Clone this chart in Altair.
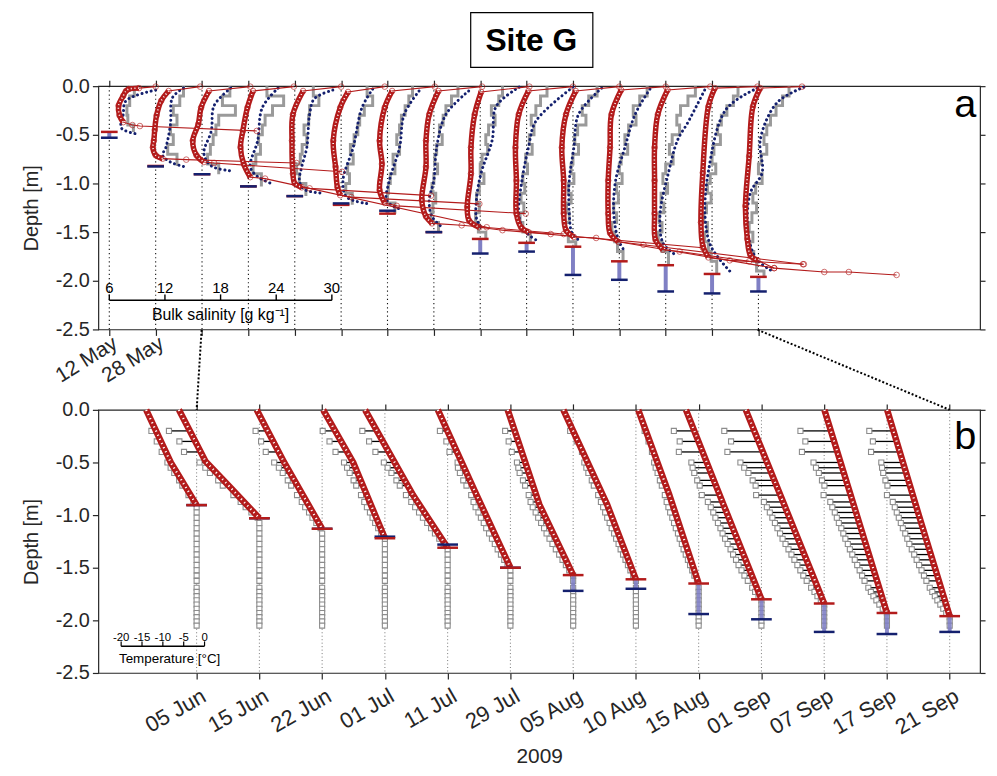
import altair as alt
import pandas as pd
import numpy as np

# ---------------- data ----------------
DATES_A = ["12 May", "28 May", "05 Jun", "15 Jun", "22 Jun", "01 Jul", "11 Jul", "29 Jul",
           "05 Aug", "10 Aug", "15 Aug", "01 Sep", "07 Sep", "17 Sep", "21 Sep"]
DATES_B = DATES_A[2:]

# ice thickness markers (m): red and blue bars
THICK_RED = [0.47, 0.82, 0.905, 1.03, 1.13, 1.22, 1.31, 1.50, 1.57, 1.61, 1.65, 1.80, 1.84, 1.93, 1.96]
THICK_BLUE = [0.53, 0.825, 0.905, 1.03, 1.13, 1.205, 1.28, 1.50, 1.72, 1.70, 1.94, 1.99, 2.11, 2.13, 2.11]

# panel a: bulk salinity (g/kg); (depth m, salinity)
RED_TOP_A = [11.0, 10.8, 11.2, 10.9, 11.0, 10.7, 11.1, 11.2, 11.3, 11.0, 11.0, 11.0, 10.8, 10.9, 10.7]
RED_CORE_A = {
    "12 May": [(-0.02, 9.2), (-0.03, 8.1), (-0.05, 7.8), (-0.10, 7.5), (-0.20, 7.0), (-0.30, 7.1), (-0.37, 7.5)],
    "28 May": [(-0.05, 7.4), (-0.15, 6.6), (-0.30, 6.1), (-0.45, 5.9), (-0.56, 5.8), (-0.63, 5.7), (-0.71, 6.0), (-0.745, 6.75)],
    "05 Jun": [(-0.05, 6.75), (-0.22, 5.9), (-0.39, 5.6), (-0.56, 5.0), (-0.71, 5.4), (-0.78, 6.2)],
    "15 Jun": [(-0.05, 6.5), (-0.22, 5.9), (-0.46, 5.4), (-0.63, 5.15), (-0.80, 5.5), (-0.935, 6.2)],
    "22 Jun": [(-0.05, 6.9), (-0.29, 5.8), (-0.56, 5.7), (-0.90, 5.8), (-1.00, 6.0), (-1.04, 6.75)],
    "01 Jul": [(-0.06, 6.75), (-0.22, 5.9), (-0.56, 5.15), (-0.83, 5.4), (-1.04, 5.6), (-1.12, 5.9)],
    "11 Jul": [(-0.05, 6.5), (-0.22, 5.7), (-0.56, 5.15), (-0.80, 5.4), (-1.07, 5.15), (-1.20, 5.7)],
    "29 Jul": [(-0.05, 6.5), (-0.29, 5.5), (-0.56, 5.15), (-0.83, 5.15), (-1.17, 4.7), (-1.34, 5.15), (-1.41, 5.8)],
    "05 Aug": [(-0.06, 6.1), (-0.29, 5.4), (-0.63, 5.0), (-0.90, 5.0), (-1.24, 4.6), (-1.38, 4.8), (-1.45, 5.9)],
    "10 Aug": [(-0.05, 6.2), (-0.29, 5.15), (-0.63, 4.8), (-0.97, 4.9), (-1.31, 4.9), (-1.45, 5.4), (-1.50, 6.2)],
    "15 Aug": [(-0.05, 6.3), (-0.29, 5.25), (-0.63, 4.8), (-0.97, 5.0), (-1.31, 5.0), (-1.48, 5.25), (-1.55, 6.1)],
    "01 Sep": [(-0.04, 6.2), (-0.29, 5.15), (-0.63, 5.0), (-0.97, 4.8), (-1.31, 4.8), (-1.51, 5.0), (-1.60, 5.9)],
    "07 Sep": [(-0.04, 6.2), (-0.29, 5.15), (-0.63, 4.8), (-0.97, 4.8), (-1.31, 4.8), (-1.58, 4.9), (-1.68, 5.7)],
    "17 Sep": [(-0.02, 6.3), (-0.21, 5.6), (-0.89, 5.0), (-1.40, 4.8), (-1.64, 5.0), (-1.76, 5.6)],
    "21 Sep": [(-0.02, 6.2), (-0.21, 5.4), (-0.72, 5.0), (-1.23, 4.6), (-1.57, 4.8), (-1.74, 5.15), (-1.79, 5.9)],
}
RED_BOTTOM_A = {
    "12 May": [(-0.40, 8.5), (-0.41, 9.3), (-0.46, 21.9)],
    "28 May": [(-0.755, 9.3), (-0.79, 21.2)],
    "05 Jun": [(-0.79, 7.3), (-0.88, 21.1)],
    "15 Jun": [(-0.95, 7.8), (-1.45, 31.7)],
    "22 Jun": [(-1.05, 7.6), (-1.125, 20.7)],
    "01 Jul": [(-1.14, 7.1), (-1.21, 20.9)],
    "11 Jul": [(-1.23, 7.0), (-1.31, 20.9)],
    "29 Jul": [(-1.43, 9.0), (-1.52, 20.0)],
    "05 Aug": [(-1.48, 8.4), (-1.66, 30.0)],
    "10 Aug": [(-1.52, 8.6)],
    "15 Aug": [(-1.56, 8.5), (-1.87, 27.7)],
    "01 Sep": [(-1.63, 8.6), (-1.83, 25.8)],
    "07 Sep": [(-1.70, 7.5), (-1.80, 15.0)],
    "17 Sep": [(-1.79, 7.9), (-1.83, 15.9)],
    "21 Sep": [(-1.87, 7.7), (-1.91, 13.1), (-1.91, 15.75), (-1.94, 20.9)],
}
BLUE_A = {
    "12 May": [(-0.04, 11.0), (-0.15, 7.8), (-0.29, 7.5), (-0.43, 7.3), (-0.49, 8.9)],
    "28 May": [(-0.02, 9.0), (-0.12, 7.8), (-0.39, 7.6), (-0.63, 7.1), (-0.71, 6.75), (-0.78, 7.6), (-0.83, 9.2)],
    "05 Jun": [(-0.02, 9.1), (-0.20, 7.3), (-0.46, 7.0), (-0.69, 6.2), (-0.82, 7.0), (-0.87, 9.1)],
    "15 Jun": [(-0.02, 9.2), (-0.22, 7.5), (-0.56, 7.0), (-0.83, 6.2), (-0.93, 7.0), (-1.01, 8.7)],
    "22 Jun": [(-0.04, 10.1), (-0.13, 8.1), (-0.29, 7.6), (-0.63, 7.3), (-0.83, 6.75), (-0.97, 6.5), (-1.06, 7.0), (-1.10, 9.0)],
    "01 Jul": [(-0.03, 9.4), (-0.22, 8.25), (-0.63, 7.3), (-0.97, 6.2), (-1.14, 6.6), (-1.21, 9.1)],
    "11 Jul": [(-0.05, 9.4), (-0.29, 7.8), (-0.63, 7.3), (-0.97, 6.2), (-1.17, 5.9), (-1.24, 6.75), (-1.27, 7.6)],
    "29 Jul": [(-0.05, 9.75), (-0.29, 7.3), (-0.63, 6.3), (-0.97, 6.0), (-1.17, 5.5), (-1.34, 5.8), (-1.45, 6.9)],
    "05 Aug": [(-0.01, 10.2), (-0.21, 7.7), (-0.55, 7.3), (-0.89, 6.1), (-1.16, 5.6), (-1.36, 5.6), (-1.47, 6.2)],
    "10 Aug": [(-0.01, 11.0), (-0.36, 7.0), (-0.63, 6.2), (-0.97, 5.5), (-1.31, 5.15), (-1.48, 5.7), (-1.58, 7.0)],
    "15 Aug": [(-0.02, 9.1), (-0.29, 6.6), (-0.63, 6.1), (-0.97, 5.6), (-1.31, 5.6), (-1.51, 5.9), (-1.58, 6.6)],
    "01 Sep": [(-0.03, 9.3), (-0.29, 7.7), (-0.63, 6.6), (-0.97, 5.6), (-1.31, 5.4), (-1.58, 5.9), (-1.70, 6.6)],
    "07 Sep": [(-0.04, 10.2), (-0.38, 8.35), (-0.55, 7.3), (-0.89, 6.3), (-1.31, 5.4), (-1.61, 5.7), (-1.73, 7.0)],
    "17 Sep": [(-0.02, 10.9), (-0.24, 7.5), (-0.88, 5.6), (-1.35, 5.25), (-1.65, 5.9), (-1.90, 7.9)],
    "21 Sep": [(-0.01, 10.9), (-0.17, 8.0), (-0.55, 6.2), (-0.89, 6.4), (-1.09, 5.15), (-1.40, 4.8), (-1.64, 5.15), (-1.79, 5.9), (-1.89, 7.3)],
}
# gray stepped core salinity, one value per 10 cm section from the surface
GRAY_A = {
    "12 May": [8.7, 8.2, 7.9, 8.0, 8.6],
    "28 May": [9.0, 8.6, 7.9, 8.3, 7.6, 7.9, 7.3, 8.3],
    "05 Jun": [9.0, 8.2, 9.6, 7.8, 7.5, 7.2, 6.9, 6.6, 7.8],
    "15 Jun": [8.0, 9.8, 8.6, 7.8, 7.5, 7.1, 7.3, 6.8, 6.5, 7.4],
    "22 Jun": [8.0, 8.6, 7.6, 7.5, 7.0, 7.3, 6.8, 6.6, 6.2, 6.5, 7.2],
    "01 Jul": [8.8, 9.4, 8.5, 8.0, 7.8, 7.4, 7.0, 7.3, 6.7, 6.9, 6.5, 7.2],
    "11 Jul": [8.7, 8.3, 7.9, 7.5, 7.3, 7.0, 7.3, 6.6, 6.8, 6.3, 6.1, 6.0, 6.8],
    "29 Jul": [8.6, 7.9, 7.3, 7.0, 6.6, 6.9, 6.3, 6.1, 6.4, 6.0, 5.8, 6.2, 5.9, 5.7, 6.5],
    "05 Aug": [8.4, 8.0, 7.2, 7.6, 6.9, 6.6, 6.8, 6.2, 6.0, 6.4, 5.9, 5.6, 5.9, 5.5, 5.8, 6.6],
    "10 Aug": [8.2, 7.5, 7.0, 6.5, 6.8, 6.3, 6.6, 5.9, 6.1, 5.6, 5.8, 5.4, 5.7, 5.3, 5.6, 6.4],
    "15 Aug": [8.6, 7.7, 7.0, 7.4, 6.5, 6.2, 6.6, 6.0, 5.8, 6.1, 5.5, 5.8, 5.3, 5.6, 5.2, 5.5, 6.3],
    "01 Sep": [9.0, 8.2, 7.5, 7.8, 7.0, 6.6, 6.9, 6.2, 6.0, 6.3, 5.7, 5.9, 5.4, 5.7, 5.2, 5.5, 5.8, 6.4],
    "07 Sep": [9.2, 8.4, 7.6, 7.2, 7.5, 6.7, 6.4, 6.8, 6.0, 5.7, 6.2, 5.5, 5.8, 5.3, 5.6, 5.2, 5.6, 6.3],
    "17 Sep": [8.8, 8.3, 7.6, 7.0, 6.6, 6.9, 6.2, 6.0, 6.4, 5.8, 5.5, 5.9, 5.4, 5.1, 5.5, 5.2, 5.6, 5.9, 6.5],
    "21 Sep": [9.3, 8.6, 7.9, 7.3, 6.9, 6.6, 6.9, 6.3, 6.0, 6.4, 5.7, 5.4, 5.8, 5.3, 5.0, 5.4, 5.1, 5.5, 5.8, 6.6],
}
SAL_TICKS = [6, 12, 18, 24, 30]
SAL_REF = 6.0          # salinity at each date's tick
SAL_PER_SLOT = 5.0     # g/kg per date spacing

# panel b: temperature (degC); (depth m, temperature)
RED_B = {
    "05 Jun": [(0.0, -14.0), (-0.5, -8.1), (-0.905, -1.9)],
    "15 Jun": [(0.0, -21.2), (-0.49, -14.8), (-0.74, -8.8), (-1.03, -1.9)],
    "22 Jun": [(0.0, -17.6), (-0.5, -11.0), (-1.13, -1.9)],
    "01 Jul": [(0.0, -16.7), (-0.5, -9.5), (-1.22, -1.9)],
    "11 Jul": [(0.0, -21.7), (-0.81, -10.2), (-1.31, -1.9)],
    "29 Jul": [(0.0, -19.3), (-0.81, -10.0), (-1.50, -1.9)],
    "05 Aug": [(0.0, -17.6), (-0.9, -10.0), (-1.57, -1.9)],
    "10 Aug": [(0.0, -19.3), (-0.9, -8.8), (-1.61, -1.9)],
    "15 Aug": [(0.0, -16.4), (-0.8, -9.0), (-1.65, -1.9)],
    "01 Sep": [(0.0, -20.0), (-0.9, -11.0), (-1.80, -1.9)],
    "07 Sep": [(0.0, -20.7), (-0.9, -11.5), (-1.84, -1.9)],
    "17 Sep": [(0.0, -16.9), (-0.95, -9.5), (-1.93, -1.9)],
    "21 Sep": [(0.0, -16.9), (-1.0, -9.3), (-1.96, -1.9)],
}
SENSOR_DEPTHS = [-0.2, -0.3, -0.4, -0.5, -0.55, -0.6, -0.67, -0.72, -0.81, -0.875, -0.925, -0.975,
                 -1.025, -1.075, -1.125, -1.175, -1.225, -1.275, -1.325, -1.375, -1.425, -1.475,
                 -1.525, -1.575, -1.625, -1.69, -1.73, -1.77, -1.81, -1.85, -1.89, -1.93, -1.97,
                 -2.01, -2.05]
# measured minus modelled temperature at the in-ice sensors (degC)
DIFF_B = {
    "05 Jun": [-1.1, -1.0, -1.0, -0.8, -0.8, -0.7, -0.6, -0.6, -0.5, -0.3],
    "15 Jun": [-5.0, -3.8, -4.0, -1.7, -1.5, -1.6, -1.3, -1.4, -1.0, -0.8, -0.8, -0.6, -0.3],
    "22 Jun": [-2.9, -2.9, -3.1, -2.4, -2.0, -1.8, -1.6, -1.5, -1.4, -1.2, -1.1, -0.9, -0.8, -0.6, -0.3],
    "01 Jul": [-3.0, -2.8, -2.8, -2.2, -2.0, -1.9, -1.7, -1.6, -1.4, -1.3, -1.2, -1.0, -0.9, -0.8, -0.6, -0.4],
    "11 Jul": [-3.5, -3.3, -3.2, -2.6, -2.4, -2.2, -2.0, -1.9, -1.7, -1.5, -1.4, -1.3, -1.2, -1.0, -0.9, -0.8, -0.6, -0.4],
    "29 Jul": [-1.8, -1.4, -1.8, -1.0, -1.5, -1.6, -1.6, -1.4, -1.3, -1.5, -1.6, -1.5, -1.5, -1.4, -1.4, -1.3, -1.2, -1.1, -1.0, -0.8, -0.6, -0.4],
    "05 Aug": [-2.3, -2.3, -2.4, -2.0, -2.1, -2.2, -2.0, -1.9, -1.8, -1.9, -1.9, -1.8, -1.8, -1.7, -1.6, -1.6, -1.5, -1.4, -1.2, -1.0, -0.8, -0.6, -0.4],
    "10 Aug": [-0.7, -0.3, -0.2, -0.8, -0.9, -1.0, -1.0, -1.1, -1.1, -1.2, -1.2, -1.2, -1.2, -1.1, -1.1, -1.0, -1.0, -0.9, -0.9, -0.8, -0.7, -0.6, -0.5, -0.3],
    "15 Aug": [-0.3, -0.3, -0.4, -0.8, -0.9, -0.9, -1.0, -1.0, -1.1, -1.2, -1.2, -1.2, -1.1, -1.1, -1.1, -1.0, -1.0, -0.9, -0.9, -0.8, -0.7, -0.6, -0.5, -0.4, -0.2],
    "01 Sep": [-4.9, -4.5, -5.7, -3.7, -3.9, -4.0, -4.0, -3.9, -4.3, -3.5, -3.3, -3.2, -3.2, -3.1, -3.0, -3.0, -2.9, -2.8, -2.6, -2.5, -2.3, -2.2, -2.0, -1.8, -1.5, -1.1, -0.8, -0.4],
    "07 Sep": [-7.2, -6.6, -8.5, -6.4, -6.0, -5.5, -5.2, -5.0, -5.8, -4.6, -4.4, -4.2, -4.1, -4.0, -3.9, -3.8, -3.7, -3.5, -3.3, -3.1, -2.9, -2.7, -2.5, -2.3, -2.0, -1.6, -1.2, -0.9, -0.5],
    "17 Sep": [-7.3, -6.9, -8.5, -6.5, -6.3, -6.0, -5.8, -5.6, -6.5, -5.4, -5.3, -5.1, -5.0, -4.9, -4.7, -4.6, -4.5, -4.3, -4.2, -4.0, -3.8, -3.6, -3.4, -3.2, -3.0, -2.6, -2.3, -2.0, -1.6, -1.2, -0.7],
    "21 Sep": [-5.8, -5.7, -6.9, -5.2, -5.4, -5.5, -5.5, -5.4, -6.2, -5.3, -5.2, -5.1, -5.0, -4.9, -4.8, -4.6, -4.5, -4.4, -4.2, -4.0, -3.8, -3.6, -3.4, -3.2, -3.0, -2.7, -2.4, -2.1, -1.8, -1.4, -1.0, -0.6],
}
TEMP_TICKS = [-20, -15, -10, -5, 0]
T_REF = -1.9           # temperature at each date's tick
T_PER_SLOT = 15.05     # degC per date spacing

# ---------------- tables ----------------
def sal_x(i, s):
    return i + (s - SAL_REF) / SAL_PER_SLOT

def tmp_x(j, t):
    return j + (t - T_REF) / T_PER_SLOT

rows_all, rows_core, rows_blue, rows_gray, rows_bar_a = [], [], [], [], []
for i, d in enumerate(DATES_A):
    pts = [(-0.005, RED_TOP_A[i])] + RED_CORE_A[d] + RED_BOTTOM_A[d]
    for k, (dep, s) in enumerate(pts):
        rows_all.append(dict(date=d, k=k, depth=dep, x=sal_x(i, s)))
    for k, (dep, s) in enumerate(RED_CORE_A[d]):
        rows_core.append(dict(date=d, k=k, depth=dep, x=sal_x(i, s)))
    for k, (dep, s) in enumerate(BLUE_A[d]):
        rows_blue.append(dict(date=d, k=k, depth=dep, x=sal_x(i, s)))
    vals = GRAY_A[d]
    for k, s in enumerate(vals):
        rows_gray.append(dict(date=d, k=k, depth=-0.1 * k, x=sal_x(i, s)))
    rows_gray.append(dict(date=d, k=len(vals), depth=-THICK_RED[i], x=sal_x(i, vals[-1])))
    rows_bar_a.append(dict(slot=i, red=-THICK_RED[i], blue=-THICK_BLUE[i], xlo=i - 0.18, xhi=i + 0.18))

red_all_a = pd.DataFrame(rows_all)
red_core_a = pd.DataFrame(rows_core)
blue_a = pd.DataFrame(rows_blue)
gray_a = pd.DataFrame(rows_gray)
bars_a = pd.DataFrame(rows_bar_a)
slots_a = pd.DataFrame({"slot": list(range(len(DATES_A)))})

rows_rb, rows_sens, rows_bar_b = [], [], []
for j, d in enumerate(DATES_B):
    prof = RED_B[d]
    for k, (dep, t) in enumerate(prof):
        rows_rb.append(dict(date=d, k=k, depth=dep, x=tmp_x(j, t)))
    thick = THICK_RED[j + 2]
    dp = [-p[0] for p in prof]
    tp = [p[1] for p in prof]
    diffs = DIFF_B[d]
    for k, sd in enumerate(SENSOR_DEPTHS):
        if sd > -thick:
            model = float(np.interp(-sd, dp, tp))
            meas = model + (diffs[k] if k < len(diffs) else 0.0)
            rows_sens.append(dict(date=d, depth=sd, xm=tmp_x(j, meas), xr=tmp_x(j, model), ice=1))
        else:
            rows_sens.append(dict(date=d, depth=sd, xm=tmp_x(j, T_REF), xr=tmp_x(j, T_REF), ice=0))
    rows_bar_b.append(dict(slot=j, red=-THICK_RED[j + 2], blue=-THICK_BLUE[j + 2], xlo=j - 0.165, xhi=j + 0.165))

red_b = pd.DataFrame(rows_rb)
sens_b = pd.DataFrame(rows_sens)
bars_b = pd.DataFrame(rows_bar_b)
slots_b = pd.DataFrame({"slot": list(range(len(DATES_B)))})

# scale bars
sal_bar = pd.DataFrame([dict(x0=sal_x(0, SAL_TICKS[0]), x1=sal_x(0, SAL_TICKS[-1]), y=-2.2)])
sal_ticks = pd.DataFrame([dict(x=sal_x(0, s), y=-2.2, y2=-2.14, yl=-2.07, lab=str(s)) for s in SAL_TICKS])
tmp_bar = pd.DataFrame([dict(x0=tmp_x(0, TEMP_TICKS[0]), x1=tmp_x(0, TEMP_TICKS[-1]), y=-2.245)])
tmp_ticks = pd.DataFrame([dict(x=tmp_x(0, t), y=-2.245, y2=-2.2, yl=-2.165, lab=str(t)) for t in TEMP_TICKS])

sal_label = pd.DataFrame([dict(x=sal_x(0, 18), y=-2.35, lab="Bulk salinity [g kg\u207b\u00b9]")])
tmp_label = pd.DataFrame([dict(x=-0.43, y=-2.37, lab="Temperature [\u00b0C]")])
letter_a_df = pd.DataFrame([dict(x=18.46, y=-0.19, lab="a")])
letter_b_df = pd.DataFrame([dict(x=12.25, y=-0.26, lab="b")])
one = pd.DataFrame({"a": [0]})

# ---------------- styling ----------------
RED = "#b31b1b"
NAVY = "#14206e"
LBLUE = "#8080c4"
GRAY = "#9a9a9a"
FONT = "Liberation Sans"

sx_a = alt.Scale(domain=[-0.236, 18.78], nice=False, zero=False)
sx_b = alt.Scale(domain=[-1.566, 12.484], nice=False, zero=False)
sy = alt.Scale(domain=[-2.5, 0], nice=False, zero=False)

ylab = "replace(format(datum.value, '.1f'), '\u2212', '-')"
yvals = [-2.5, -2.0, -1.5, -1.0, -0.5, 0.0]

def left_axis():
    return alt.Axis(orient="left", values=yvals, labelExpr=ylab, labelFontSize=20, tickSize=6,
                    labelPadding=3, domain=False, grid=False, title="Depth [m]", titleFontSize=20,
                    titleFontWeight="normal", titlePadding=14)

def right_axis():
    return alt.Axis(orient="right", values=yvals, labels=False, tickSize=5, domain=False, grid=False, title=None)

def top_axis(n):
    return alt.Axis(orient="top", values=list(range(n)), labels=False, tickSize=6, domain=False,
                    grid=False, title=None)

lab_a = "datum.value < 2 ? [" + ",".join("'%s'" % d for d in DATES_A) + "][datum.value] : ''"
lab_b = "[" + ",".join("'%s'" % d for d in DATES_B) + "][datum.value]"

bottom_axis_a = alt.Axis(orient="bottom", values=list(range(len(DATES_A))), labelExpr=lab_a,
                         labelAngle=-32, labelAlign="right", labelBaseline="middle", labelFontSize=21,
                         labelPadding=6, labelOffset=6, labelOverlap=False, labelFlush=False, tickSize=6,
                         domain=False, grid=False, title=None)
bottom_axis_b = alt.Axis(orient="bottom", values=list(range(len(DATES_B))), labelExpr=lab_b,
                         labelAngle=-30, labelAlign="right", labelBaseline="middle", labelFontSize=22,
                         labelPadding=15, labelOffset=7, labelOverlap=False, labelFlush=False, tickSize=6,
                         domain=False, grid=False, title="2009", titleFontSize=21,
                         titleFontWeight="normal", titlePadding=8)

def X(f, sc, axis=None):
    return alt.X(f"{f}:Q", scale=sc, axis=axis)

def Y(f, axis=None):
    return alt.Y(f"{f}:Q", scale=sy, axis=axis)

# ---------------- panel a ----------------
grid_a = alt.Chart(slots_a).mark_rule(color="#111", strokeDash=[1.2, 3], strokeWidth=1.1).encode(
    x=X("slot", sx_a, top_axis(len(DATES_A))))
gray_l = alt.Chart(gray_a).mark_line(interpolate="step-before", color=GRAY, strokeWidth=3).encode(
    x=X("x", sx_a, bottom_axis_a), y=Y("depth", left_axis()), detail="date:N", order="k:Q")
blue_l = alt.Chart(blue_a).mark_line(interpolate="catmull-rom", color=NAVY, strokeWidth=3,
                                     strokeDash=[0.1, 4.6], strokeCap="round").encode(
    x=X("x", sx_a), y=Y("depth"), detail="date:N", order="k:Q")
red_thin = alt.Chart(red_all_a).mark_line(color=RED, strokeWidth=1.1).encode(
    x=X("x", sx_a), y=Y("depth"), detail="date:N", order="k:Q")
red_pts = alt.Chart(red_all_a).mark_point(shape="circle", filled=False, size=32, color=RED, strokeWidth=0.9).encode(
    x=X("x", sx_a), y=Y("depth"))
red_chain = alt.Chart(red_core_a).mark_line(interpolate="catmull-rom", color=RED, strokeWidth=5.5).encode(
    x=X("x", sx_a), y=Y("depth"), detail="date:N", order="k:Q")
red_holes = alt.Chart(red_core_a).mark_line(interpolate="catmull-rom", color="white", strokeWidth=1.6,
                                            strokeDash=[1, 2.6]).encode(
    x=X("x", sx_a), y=Y("depth"), detail="date:N", order="k:Q")
bar_l_a = alt.Chart(bars_a).mark_rule(color=LBLUE, strokeWidth=4).encode(
    x=X("slot", sx_a), y=Y("red"), y2="blue:Q")
bar_r_a = alt.Chart(bars_a).mark_rule(color=RED, strokeWidth=2.5).encode(
    x=X("xlo", sx_a), x2="xhi:Q", y=Y("red"))
bar_b_a = alt.Chart(bars_a).mark_rule(color=NAVY, strokeWidth=2.5).encode(
    x=X("xlo", sx_a), x2="xhi:Q", y=Y("blue", right_axis()))
sbar = alt.Chart(sal_bar).mark_rule(color="black", strokeWidth=1.6).encode(
    x=X("x0", sx_a), x2="x1:Q", y=Y("y"))
stick = alt.Chart(sal_ticks).mark_rule(color="black", strokeWidth=1.4).encode(
    x=X("x", sx_a), y=Y("y"), y2="y2:Q")
stext = alt.Chart(sal_ticks).mark_text(fontSize=15, font=FONT, baseline="middle", color="black").encode(
    x=X("x", sx_a), y=Y("yl"), text="lab:N")
slabel = alt.Chart(sal_label).mark_text(fontSize=16, font=FONT, baseline="middle", color="black").encode(
    x=X("x", sx_a), y=Y("y"), text="lab:N")
letter_a = alt.Chart(letter_a_df).mark_text(fontSize=40, font=FONT, baseline="middle", color="black").encode(
    x=X("x", sx_a), y=Y("y"), text="lab:N")
tbox = alt.Chart(one).mark_rect(fill="white", stroke="black", strokeWidth=1.2).encode(
    x=alt.value(375), x2=alt.value(498), y=alt.value(-74), y2=alt.value(-19))
ttext = alt.Chart(one).mark_text(fontSize=32, font=FONT, fontWeight="bold", text="Site G",
                                 baseline="middle", align="center", color="black").encode(
    x=alt.value(436), y=alt.value(-45))

panel_a = alt.layer(grid_a, gray_l, blue_l, red_thin, red_pts, red_chain, red_holes,
                    bar_l_a, bar_r_a, bar_b_a, sbar, stick, stext, slabel, letter_a, tbox, ttext
                    ).resolve_axis(x="independent", y="independent").properties(width=888, height=245)

# ---------------- panel b ----------------
grid_b = alt.Chart(slots_b).mark_rule(color="#777", strokeDash=[1, 2.5], strokeWidth=1).encode(
    x=X("slot", sx_b, top_axis(len(DATES_B))))
lines_b = alt.Chart(sens_b).transform_filter("datum.ice == 1").mark_rule(color="black", strokeWidth=1.3).encode(
    x=X("xm", sx_b, bottom_axis_b), x2="xr:Q", y=Y("depth", left_axis()))
sq_b = alt.Chart(sens_b).mark_point(shape="square", size=26, filled=False, color="#8c8c8c",
                                    fill="white", fillOpacity=1, strokeWidth=1.1).encode(
    x=X("xm", sx_b), y=Y("depth"))
bar_l_b = alt.Chart(bars_b).mark_rule(color=LBLUE, strokeWidth=4, opacity=0.9).encode(
    x=X("slot", sx_b), y=Y("red"), y2="blue:Q")
chain_b = alt.Chart(red_b).mark_line(color=RED, strokeWidth=6.5).encode(
    x=X("x", sx_b), y=Y("depth"), detail="date:N", order="k:Q")
holes_b = alt.Chart(red_b).mark_line(color="white", strokeWidth=2.2, strokeDash=[1.2, 3.4]).encode(
    x=X("x", sx_b), y=Y("depth"), detail="date:N", order="k:Q")
bar_b_b = alt.Chart(bars_b).mark_rule(color=NAVY, strokeWidth=2.5).encode(
    x=X("xlo", sx_b), x2="xhi:Q", y=Y("blue", right_axis()))
bar_r_b = alt.Chart(bars_b).mark_rule(color=RED, strokeWidth=2.5).encode(
    x=X("xlo", sx_b), x2="xhi:Q", y=Y("red"))
tbar = alt.Chart(tmp_bar).mark_rule(color="black", strokeWidth=1.5).encode(
    x=X("x0", sx_b), x2="x1:Q", y=Y("y"))
ttick = alt.Chart(tmp_ticks).mark_rule(color="black", strokeWidth=1.2).encode(
    x=X("x", sx_b), y=Y("y"), y2="y2:Q")
ttxt = alt.Chart(tmp_ticks).mark_text(fontSize=11.5, font=FONT, baseline="middle", color="black").encode(
    x=X("x", sx_b), y=Y("yl"), text="lab:N")
tlabel = alt.Chart(tmp_label).mark_text(fontSize=13.5, font=FONT, baseline="middle", color="black").encode(
    x=X("x", sx_b), y=Y("y"), text="lab:N")
letter_b = alt.Chart(letter_b_df).mark_text(fontSize=40, font=FONT, baseline="middle", color="black").encode(
    x=X("x", sx_b), y=Y("y"), text="lab:N")
# zoom connectors from panel a (05 Jun and 21 Sep) down to panel b
conn = pd.DataFrame([dict(x0=(201 - 196) / 63.2, y0=0.76, x1=0.0, y1=0.0),
                     dict(x0=(761 - 196) / 63.2, y0=0.76, x1=12.0, y1=0.0)])
conn_l = alt.Chart(conn).mark_rule(color="black", strokeDash=[2, 2], strokeWidth=2).encode(
    x=X("x0", sx_b), y=Y("y0"), x2="x1:Q", y2="y1:Q")

panel_b = alt.layer(grid_b, lines_b, sq_b, bar_l_b, chain_b, holes_b, bar_b_b, bar_r_b,
                    tbar, ttick, ttxt, tlabel, letter_b, conn_l
                    ).resolve_axis(x="independent", y="independent").properties(width=888, height=265)

chart = alt.vconcat(panel_a, panel_b, spacing=81, bounds="flush").properties(
    padding={"left": 12, "top": 0, "right": 2, "bottom": 0}
).configure(font=FONT).configure_view(stroke="#262626", strokeWidth=1.2).configure_axis(
    labelFont=FONT, titleFont=FONT, labelColor="#262626", titleColor="#262626",
    tickColor="#262626", tickWidth=1.2)

chart.save("out.html", embed_options={"renderer": "svg", "actions": False})
